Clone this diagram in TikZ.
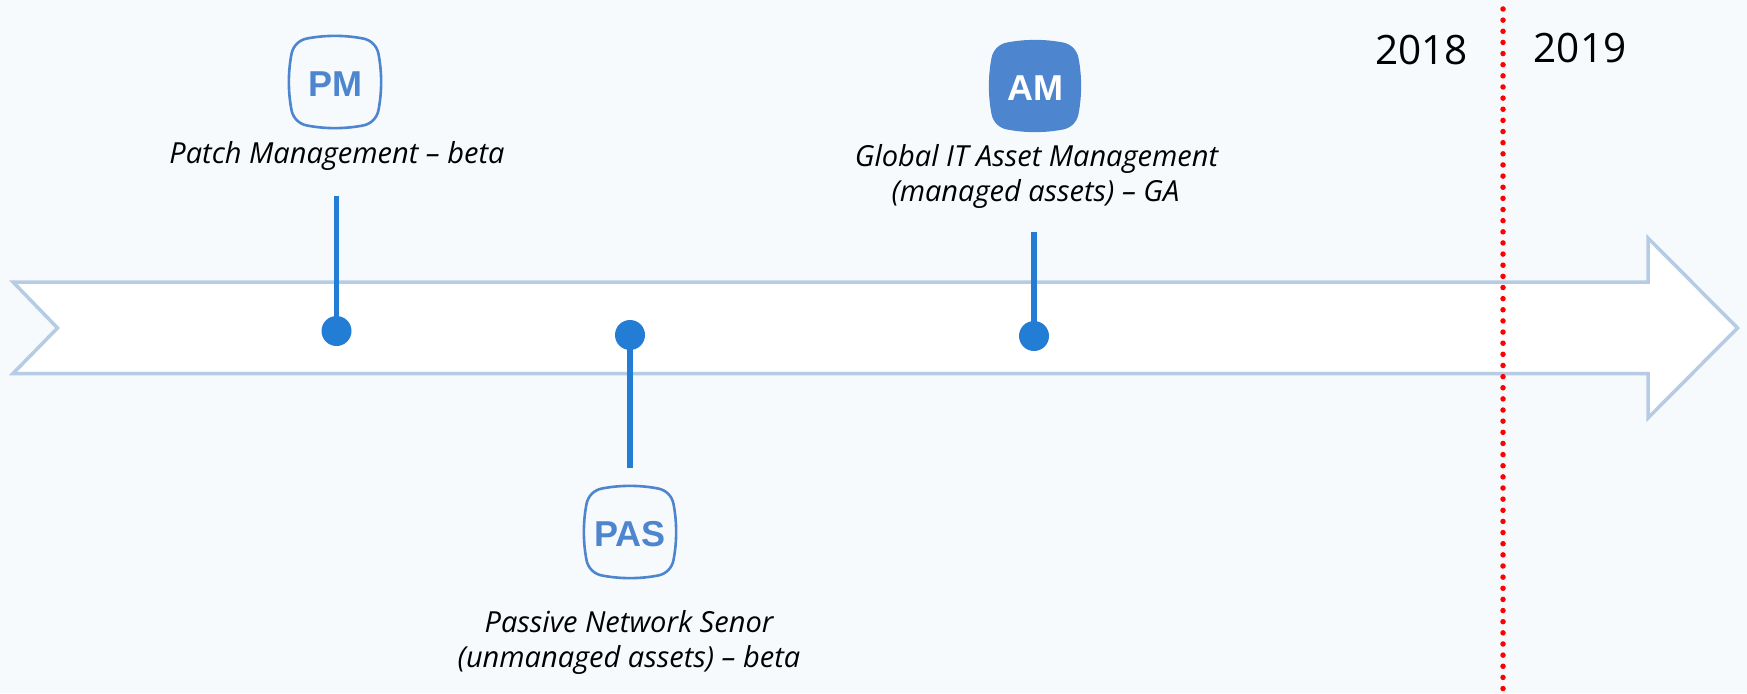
\documentclass[tikz,border=0pt]{standalone}
\usepackage{fontspec}
\setmainfont{Open Sans}
\newfontfamily\iconfont{Liberation Sans}[Scale=1]
\definecolor{bgc}{HTML}{F7FAFD}
\definecolor{arrowc}{HTML}{B5CCE4}
\definecolor{linec}{HTML}{237DD5}
\definecolor{iconc}{HTML}{4E85CF}
\tikzset{
  squircle/.pic={
    \path[pic actions] (-28,-43.5) .. controls (-10,-47) and (10,-47) .. (28,-43.5)
      .. controls (36,-42) and (42,-36) .. (43.5,-28)
      .. controls (47,-10) and (47,10) .. (43.5,28)
      .. controls (42,36) and (36,42) .. (28,43.5)
      .. controls (10,47) and (-10,47) .. (-28,43.5)
      .. controls (-36,42) and (-42,36) .. (-43.5,28)
      .. controls (-47,10) and (-47,-10) .. (-43.5,-28)
      .. controls (-42,-36) and (-36,-42) .. (-28,-43.5) -- cycle;
  },
  iconline/.style={draw=iconc,line width=2.6pt,fill=none},
  iconfill/.style={fill=iconc,draw=none},
  icontext/.style={font=\iconfont\bfseries\fontsize{36}{36}\selectfont,anchor=base,inner sep=0pt},
  caption/.style={font=\itshape\fontsize{29}{35}\selectfont,anchor=base,inner sep=0pt,text=black},
  yeartext/.style={font=\fontsize{40.5}{40.5}\selectfont,anchor=base,inner sep=0pt,text=black},
  dot/.style={circle,fill=linec,draw=none,minimum size=30pt,inner sep=0pt},
  stem/.style={draw=linec,line width=5.5pt},
}
\begin{document}
\begin{tikzpicture}[x=1pt,y=-1pt]
\useasboundingbox (0,0) rectangle (1747,693);
\fill[bgc] (0,0) rectangle (1747,693);
% timeline arrow
\draw[arrowc,fill=white,line width=3.5pt,miter limit=10]
  (13,282) -- (1648,282) -- (1648,238) -- (1737.5,328) -- (1648,418) -- (1648,373.5) -- (13,373.5) -- (57.5,328) -- cycle;
% year divider
\coordinate (divTop) at (1503,9);
\coordinate (divBot) at (1503,693);
\draw[red,line width=5.5pt,line cap=round,dash pattern=on 0pt off 11.14pt] (divTop) -- (divBot);
% milestones
\node[dot] (pmDot) at (336.5,331) {};
\node[dot] (pasDot) at (630,335) {};
\node[dot] (amDot) at (1034,336) {};
\coordinate (pmTop) at (336.5,196);
\coordinate (pasBot) at (630,468);
\coordinate (amTop) at (1034,232);
\draw[stem] (pmTop) -- (pmDot.center);
\draw[stem] (pasBot) -- (pasDot.center);
\draw[stem] (amTop) -- (amDot.center);
% icons
\pic[iconline] at (335,82) {squircle};
\pic[iconline] at (630,532) {squircle};
\pic[iconfill] at (1035,86) {squircle};
\node[icontext,text=iconc] (pmIcon) at (335,96) {PM};
\node[icontext,text=iconc] (pasIcon) at (630,546) {PAS};
\node[icontext,text=white] (amIcon) at (1035,100) {AM};
% captions
\node[caption] (pmText) at (337,163) {Patch Management – beta};
\node[caption] (pasText1) at (629,632.5) {Passive Network Senor};
\node[caption] (pasText2) at (629,667.5) {(unmanaged assets) – beta};
\node[caption] (amText1) at (1036.5,166) {Global IT Asset Management};
\node[caption] (amText2) at (1035.5,201.5) {(managed assets) – GA};
% years
\node[yeartext] (y2018) at (1421.5,64) {2018};
\node[yeartext] (y2019) at (1580,63) {2019};
\end{tikzpicture}
\end{document}
